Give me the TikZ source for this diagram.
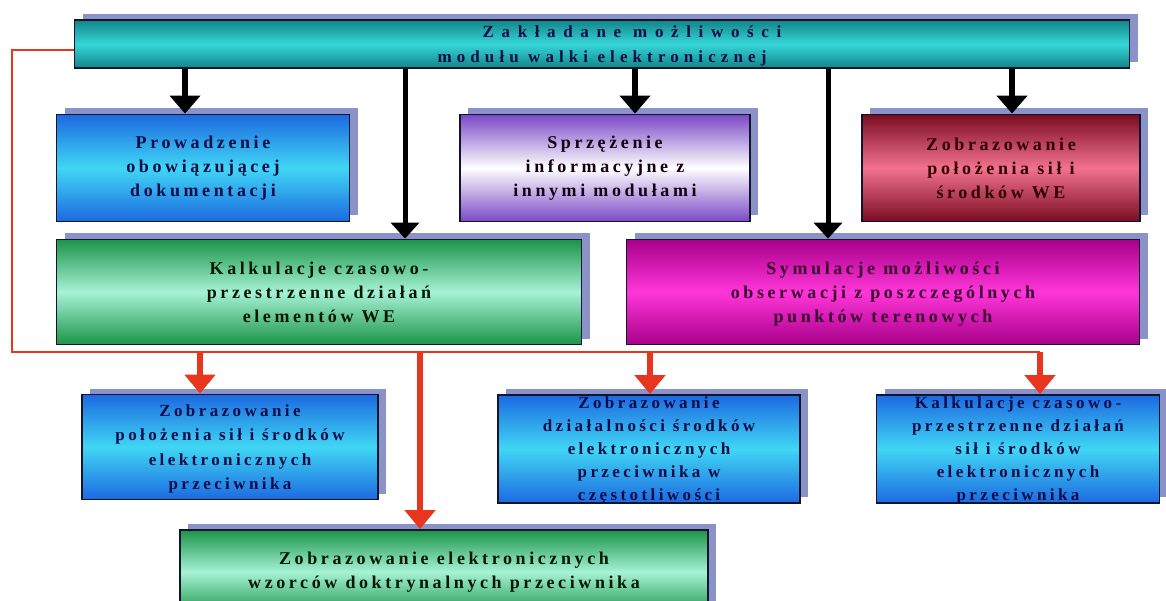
\documentclass[tikz,border=0pt]{standalone}
\usepackage{fontspec}
\setmainfont{Liberation Serif}
\newfontfamily\boxfont[LetterSpace=20]{Liberation Serif}
\newfontfamily\headfont[LetterSpace=30]{Liberation Serif}
\usetikzlibrary{arrows.meta,shadows}

\definecolor{shadecol}{HTML}{8A92C8}
\definecolor{framecol}{HTML}{10142E}
\definecolor{bluetop}{HTML}{1C6AE0}
\definecolor{bluemid}{HTML}{40D6F4}
\definecolor{greentop}{HTML}{1C9448}
\definecolor{greenmid}{HTML}{A6F2D6}
\definecolor{tealtop}{HTML}{118488}
\definecolor{tealmid}{HTML}{36D6D8}
\definecolor{violettop}{HTML}{7A48C6}
\definecolor{redtop}{HTML}{7A0C22}
\definecolor{redmid}{HTML}{F2728E}
\definecolor{magtop}{HTML}{A8008A}
\definecolor{magmid}{HTML}{FF36D8}
\definecolor{busred}{HTML}{E8361E}
\definecolor{navytxt}{HTML}{0C0C4A}
\definecolor{magtxt}{HTML}{3A0030}

\begin{document}
\begin{tikzpicture}
  [x=1pt,y=-1pt,
   box/.style={draw=framecol,line width=1.8pt,align=center,inner sep=2pt,
     font=\boxfont\bfseries\fontsize{18}{24}\selectfont,
     drop shadow={shadow xshift=8pt,shadow yshift=6pt,fill=shadecol,opacity=1}},
   tealbox/.style={box,top color=tealtop,bottom color=tealtop,middle color=tealmid,
     text=navytxt,font=\headfont\bfseries\fontsize{17}{25}\selectfont},
   bluebox/.style={box,top color=bluetop,bottom color=bluetop,middle color=bluemid,text=navytxt},
   greenbox/.style={box,top color=greentop,bottom color=greentop,middle color=greenmid,text=black!90!green},
   violetbox/.style={box,top color=violettop,bottom color=violettop,middle color=white,text=black!85!violet},
   redbox/.style={box,top color=redtop,bottom color=redtop,middle color=redmid,text=black!80!red},
   magbox/.style={box,top color=magtop,bottom color=magtop,middle color=magmid,text=magtxt},
   blackarrow/.style={line width=6.5pt,-{Triangle[width=30pt,length=18pt]}},
   longarrow/.style={line width=5pt,-{Triangle[width=28pt,length=16pt]}},
   busline/.style={draw=busred,line width=2.2pt},
   redarrow/.style={busred,line width=6.5pt,-{Triangle[width=30pt,length=19pt]}}]

  \useasboundingbox (0,0) rectangle (1166,601);

  % main module
  \node (top)[tealbox,minimum width=1055pt,minimum height=48pt,text depth=-6pt] at (602,44)
    {\hspace*{60pt}{\addfontfeature{LetterSpace=45}Zakładane możliwości}\\modułu walki elektronicznej};

  % first row
  \node (p1)[bluebox,minimum width=293pt,minimum height=107pt] at (203,168)
    {Prowadzenie\\obowiązującej\\dokumentacji};
  \node (p2)[violetbox,minimum width=290pt,minimum height=107pt] at (605,168)
    {Sprzężenie\\informacyjne z\\innymi modułami};
  \node (p3)[redbox,minimum width=278pt,minimum height=107pt] at (1001,168)
    {Zobrazowanie\\położenia sił i\\środków WE};

  % second row
  \node (k1)[greenbox,minimum width=525pt,minimum height=105pt] at (319,292)
    {Kalkulacje czasowo-\\przestrzenne działań\\elementów WE};
  \node (k2)[magbox,minimum width=513pt,minimum height=105pt,text depth=-6pt] at (883,292)
    {Symulacje możliwości\\obserwacji z poszczególnych\\punktów terenowych};

  % third row
  \node (e1)[bluebox,minimum width=296pt,minimum height=105pt,text depth=-10pt,
    font=\boxfont\bfseries\fontsize{17}{24.5}\selectfont] at (230,447)
    {Zobrazowanie\\położenia sił i środków\\elektronicznych\\przeciwnika};
  \node (e2)[bluebox,minimum width=302pt,minimum height=108pt,text depth=-14pt,
    font=\boxfont\bfseries\fontsize{17}{23}\selectfont] at (649,449)
    {Zobrazowanie\\działalności środków\\elektronicznych\\przeciwnika w\\częstotliwości};
  \node (e3)[bluebox,minimum width=283pt,minimum height=108pt,text depth=-14pt,
    font=\boxfont\bfseries\fontsize{17}{23}\selectfont] at (1018,449)
    {Kalkulacje czasowo-\\przestrzenne działań\\sił i środków\\elektronicznych\\przeciwnika};

  % bottom
  \node (w1)[greenbox,minimum width=528pt,minimum height=84pt] at (444,572)
    {Zobrazowanie elektronicznych\\wzorców doktrynalnych przeciwnika};

  \coordinate (a1) at (185,0);
  \coordinate (a2) at (635,0);
  \coordinate (a3) at (1012,0);
  \coordinate (a4) at (405,0);
  \coordinate (a5) at (828,0);
  \coordinate (busL) at (12,352);
  \coordinate (busR) at (1040,352);
  \coordinate (r1) at (200,0);
  \coordinate (r2) at (650,0);
  \coordinate (r3) at (1040,0);
  \coordinate (r4) at (420,0);

  \foreach \at/\to in {a1/p1,a2/p2,a3/p3}
    \draw[blackarrow] (\at |- top.south) -- (\at |- \to.north);
  \foreach \at/\to in {a4/k1,a5/k2}
    \draw[longarrow] (\at |- top.south) -- (\at |- \to.north);

  \draw[busline] ([yshift=-6pt]top.west) -| (busL) -- (busR);
  \foreach \at/\to in {r1/e1,r2/e2,r3/e3,r4/w1}
    \draw[redarrow] (\at |- busL) -- (\at |- \to.north);

\end{tikzpicture}
\end{document}
